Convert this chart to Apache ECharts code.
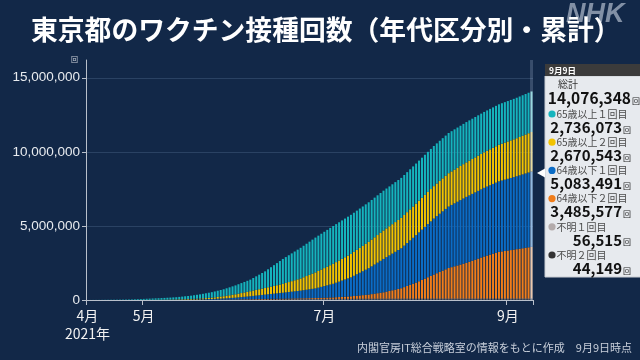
<!DOCTYPE html>
<html>
<head>
<meta charset="utf-8">
<script src="https://cdn.jsdelivr.net/npm/echarts@6.0.0/dist/echarts.min.js"></script>
<style>
html,body{margin:0;padding:0;background:#122848;}
#chart{width:640px;height:360px;}
</style>
</head>
<body>
<div id="chart"></div>
<script>
// ---- Data (cumulative doses, in thousands), one value per day from 2021-04-12 to 2021-09-09 ----
const startDate = '2021-04-12';

const teal = [ // 65歳以上１回目
2,3,4,5,6,8,
10,12,14,16,18,
21,24,27,31,35,
42,50,57,65,
72,80,87,95,102,110,
118,126,134,142,150,
164,178,192,206,220,
240,260,280,
302,325,347,370,
395,420,445,470,
502,535,567,600,
636,672,708,744,780,
848,916,984,1052,1120,
1213,1307,1400,1493,1587,1680,
1745,1810,1875,1940,2005,2070,
2126,2182,2238,2294,2350,
2383,2417,2450,2483,2517,2550,
2565,2580,2595,2610,2625,2640,
2645,2650,2655,2660,2665,2670,
2674,2678,2682,2686,2690,
2692,2693,2695,2697,2698,2700,
2701,2702,2703,2704,2705,
2706,2707,2707,2708,2709,2710,
2711,2712,2713,2714,2715,
2716,2717,2718,2718,2719,2720,
2721,2722,2723,2723,2724,2725,
2726,2726,2727,2727,2728,
2729,2729,2730,2731,2731,2732,
2733,2734,2734,2735,2736.073];

const yellow = [ // 65歳以上２回目
0,0,0,0,0,0,
0,0,1,1,1,
1,1,2,2,2,
3,3,4,5,
6,7,8,9,10,12,
14,17,19,22,25,
29,33,37,41,45,
50,55,60,
67,75,82,90,
105,120,135,150,
170,190,210,230,
252,274,296,318,340,
362,384,406,428,450,
475,500,525,550,575,600,
637,673,710,747,783,820,
872,924,976,1028,1080,
1125,1170,1215,1260,1305,1350,
1388,1427,1465,1503,1542,1580,
1613,1647,1680,1713,1747,1780,
1808,1836,1864,1892,1920,
1942,1963,1985,2007,2028,2050,
2066,2082,2098,2114,2130,
2140,2150,2160,2170,2180,2190,
2202,2214,2226,2238,2250,
2263,2277,2290,2303,2317,2330,
2342,2353,2365,2377,2388,2400,
2414,2428,2442,2456,2470,
2487,2503,2520,2537,2553,2570,
2590,2610,2630,2650,2670.543];

const blue = [ // 64歳以下１回目
0,0,0,0,0,0,
0,1,1,1,1,
1,1,2,2,2,
2,2,3,3,
3,4,4,5,5,6,
7,8,8,9,10,
12,14,16,18,20,
23,27,30,
35,40,45,50,
57,65,72,80,
90,100,110,120,
136,152,168,184,200,
218,236,254,272,290,
308,327,345,363,382,400,
420,440,460,480,500,520,
546,572,598,624,650,
695,740,785,830,875,920,
980,1040,1100,1160,1220,1280,
1363,1447,1530,1613,1697,1780,
1874,1968,2062,2156,2250,
2325,2400,2475,2550,2625,2700,
2800,2900,3000,3100,3200,
3297,3393,3490,3587,3683,3780,
3854,3928,4002,4076,4150,
4200,4250,4300,4350,4400,4450,
4480,4510,4540,4570,4600,4630,
4656,4682,4708,4734,4760,
4787,4813,4840,4867,4893,4920,
4953,4985,5018,5051,5083.491];

const orange = [ // 64歳以下２回目
0,0,0,0,0,0,
0,0,0,0,0,
0,0,0,0,1,
1,1,1,1,
1,1,2,2,2,2,
2,2,3,3,3,
3,4,4,5,5,
6,6,7,
8,9,10,11,
12,13,14,15,
16,17,19,20,
22,24,26,28,30,
32,34,36,38,40,
41,42,42,43,44,45,
47,48,50,52,53,55,
57,59,61,63,65,
71,77,83,88,94,100,
112,123,135,147,158,170,
188,207,225,243,262,280,
310,340,370,400,430,
475,520,565,610,655,700,
776,852,928,1004,1080,
1170,1260,1350,1440,1530,1620,
1708,1796,1884,1972,2060,
2118,2177,2235,2293,2352,2410,
2482,2553,2625,2697,2768,2840,
2902,2964,3026,3088,3150,
3180,3210,3240,3270,3300,3330,
3361,3392,3423,3454,3485.577];

const unknown1 = [ // 不明１回目
0,0,0,0,0,0,0,0,0,0,
0,0,0,0,0,0,0,0,0,0,
0,0,0,0,0,0,0,0,0,0,
0,
1,1,2,2,3,3,4,4,5,5,6,6,7,7,8,8,9,10,11,12,
13,14,15,16,17,18,19,20,21,22,23,24,25,26,27,28,29,30,31,32,33,34,35,36,37,38,39,40,40,41,
41,42,42,43,43,44,44,45,45,46,46,47,47,48,48,49,49,50,50,50,51,51,51,52,52,52,53,53,53,53,
54,54,54,54,54,54,54,
55,55,55,55,55,55,55,55,55,55,
56,56,56,56,56,56,56,56,56,56,56,56,56,56,56,56,56,56,56,
56.5,56.5,56.5,56.515];

const unknown2 = [ // 不明２回目
0,0,0,0,0,0,0,0,0,0,
0,0,0,0,0,0,0,0,0,0,
0,0,0,0,0,0,0,0,0,0,
0,0,0,0,0,0,0,0,0,0,
0,
1,1,1,2,2,2,3,3,4,4,5,5,6,6,7,8,9,10,11,12,13,14,15,16,17,18,19,20,21,22,
23,24,25,26,27,28,29,30,30,31,31,32,32,33,33,34,34,35,35,36,36,37,37,38,38,38,39,39,39,40,40,40,40,41,41,41,41,42,42,42,
42,42,42,42,
43,43,43,43,43,43,43,43,43,43,43,43,
44,44,44,44,44,44,44,44,44,44,44,44,44,44,44,44,44,44,44,44,44,
44.1,44.1,44.149];

const yTicks = [0, 5000000, 10000000, 15000000];
const xTickDates = ['4/12', '5/1', '7/1', '9/1'];
const xTickLabels = ['4月\n2021年', '5月', '7月', '9月'];

const latestDate = '9月9日';
const latestTotal = 14076348;
const latestLabels = ['65歳以上１回目', '65歳以上２回目', '64歳以下１回目', '64歳以下２回目', '不明１回目', '不明２回目'];
const latestValues = [2736073, 2670543, 5083491, 3485577, 56515, 44149];

// ---- Build ----
const n = teal.length;
[yellow, blue, orange, unknown1, unknown2].forEach((a, k) => { if (a.length !== n) console.error('length mismatch', k, a.length, n); });

const categories = [];
{
  const d0 = new Date(startDate + 'T00:00:00');
  for (let i = 0; i < n; i++) {
    const d = new Date(d0.getTime());
    d.setDate(d0.getDate() + i);
    categories.push((d.getMonth() + 1) + '/' + d.getDate());
  }
}
const tickIdx = xTickDates.map(s => categories.indexOf(s));

const C = {
  teal: '#15b4bd', yellow: '#f2c300', blue: '#0b6cc6', orange: '#f07d1a', gray: '#b3abab', dark: '#333333'
};
const seriesDefs = [
  { name: '不明２回目', data: unknown2, color: C.dark, light: '#6a6a6a' },
  { name: '不明１回目', data: unknown1, color: C.gray, light: '#d8d2d2' },
  { name: '64歳以下２回目', data: orange, color: C.orange, light: '#f6c49a' },
  { name: '64歳以下１回目', data: blue, color: C.blue, light: '#86b2dc' },
  { name: '65歳以上２回目', data: yellow, color: C.yellow, light: '#f4de8a' },
  { name: '65歳以上１回目', data: teal, color: C.teal, light: '#8fdadc' }
];
const dotColors = [C.teal, C.yellow, C.blue, C.orange, C.gray, C.dark];

const fmt = v => Math.round(v).toString().replace(/\B(?=(\d{3})+(?!\d))/g, ',');
const JP = '"Noto Sans CJK JP", "Noto Sans", sans-serif';

const series = seriesDefs.map(s => ({
  name: s.name,
  type: 'bar',
  stack: 'total',
  barCategoryGap: '32%',
  itemStyle: { color: s.color },
  data: s.data.map((v, i) => i === n - 1
    ? { value: Math.round(v * 1000), itemStyle: { color: s.light } }
    : Math.round(v * 1000))
}));

// Tooltip-like panel
const panelX = 545, panelTop = 64, headerH = 12, panelBottom = 277;
const g = [];
g.push({ type: 'rect', shape: { x: panelX, y: panelTop + headerH, width: 100, height: panelBottom - panelTop - headerH }, style: { fill: '#e7eaee', stroke: '#c9cdd3', lineWidth: 1 }, z: 100 });
g.push({ type: 'rect', shape: { x: panelX, y: panelTop, width: 100, height: headerH }, style: { fill: '#3b3b3b' }, z: 101 });
g.push({ type: 'text', x: panelX + 4, y: panelTop + headerH / 2 + 0.5, style: { text: latestDate, fill: '#ffffff', font: 'bold 8.5px ' + JP, verticalAlign: 'middle' }, z: 102 });
g.push({ type: 'text', x: 558, y: 84, style: { text: '総計', fill: '#333', font: '10px ' + JP, verticalAlign: 'middle' }, z: 102 });
g.push({ type: 'text', x: 631, y: 98, style: { text: fmt(latestTotal), fill: '#111', font: 'bold 15.5px ' + JP, align: 'right', verticalAlign: 'middle' }, z: 102 });
g.push({ type: 'text', x: 632, y: 101, style: { text: '回', fill: '#222', font: '8px ' + JP, verticalAlign: 'middle' }, z: 102 });
latestLabels.forEach((lab, i) => {
  const yl = 114 + i * 28.2;
  const yv = yl + 13;
  g.push({ type: 'circle', shape: { cx: 552, cy: yl, r: 3.6 }, style: { fill: dotColors[i] }, z: 102 });
  g.push({ type: 'text', x: 556.5, y: yl, style: { text: lab, fill: '#4a4a4a', font: '10px ' + JP, verticalAlign: 'middle' }, z: 102 });
  g.push({ type: 'text', x: 622, y: yv, style: { text: fmt(latestValues[i]), fill: '#111', font: 'bold 15px ' + JP, align: 'right', verticalAlign: 'middle' }, z: 102 });
  g.push({ type: 'text', x: 623, y: yv + 2.5, style: { text: '回', fill: '#222', font: '8px ' + JP, verticalAlign: 'middle' }, z: 102 });
});
g.push({ type: 'polygon', shape: { points: [[537, 173], [545, 168.5], [545, 177.5]] }, style: { fill: '#ffffff' }, z: 102 });
// Title, logo, source
g.push({ type: 'text', x: 566, y: 15, style: { text: 'NHK', fill: '#8290a5', font: 'italic 900 27px "Liberation Sans", Arial, sans-serif', verticalAlign: 'middle' }, z: 5 });
g.push({ type: 'text', x: 31, y: 30, style: { text: '東京都のワクチン接種回数（年代区分別・累計）', fill: '#ffffff', font: 'bold 26.8px ' + JP, verticalAlign: 'middle' }, z: 10 });
g.push({ type: 'text', x: 632, y: 348, style: { text: '内閣官房IT総合戦略室の情報をもとに作成　9月9日時点', fill: '#c8cfda', font: '11px ' + JP, align: 'right', verticalAlign: 'middle' }, z: 10 });

const chart = echarts.init(document.getElementById('chart'), null, { renderer: 'canvas' });
chart.setOption({
  backgroundColor: '#122848',
  animation: false,
  textStyle: { fontFamily: JP },
  grid: { left: 86, right: 107, top: 60, bottom: 60, containLabel: false },
  xAxis: {
    type: 'category',
    data: categories,
    boundaryGap: true,
    axisLine: { lineStyle: { color: '#b9c0cb', width: 1 } },
    axisTick: { show: true, length: 5, interval: (i) => tickIdx.includes(i), lineStyle: { color: '#b9c0cb' } },
    axisLabel: {
      interval: (i) => tickIdx.includes(i),
      formatter: (v, i) => { const k = tickIdx.indexOf(i); return k >= 0 ? xTickLabels[k] : ''; },
      color: '#f2f2f2', fontSize: 14, lineHeight: 18, margin: 7, fontFamily: JP
    },
    splitLine: { show: false },
    axisPointer: {
      show: true, type: 'shadow', value: categories[n - 1], status: 'show',
      triggerTooltip: false, label: { show: false },
      shadowStyle: { color: 'rgba(190,210,235,0.22)' }
    }
  },
  yAxis: {
    type: 'value',
    min: 0,
    max: 16200000,
    interval: 5000000,
    name: '回',
    nameLocation: 'end',
    nameGap: 1,
    nameTextStyle: { color: '#c9ced6', fontSize: 7, align: 'right', verticalAlign: 'middle', padding: [0, 8, 0, 0] },
    axisLine: { show: true, lineStyle: { color: '#b9c0cb', width: 1 } },
    axisTick: { show: true, length: 4, customValues: yTicks, lineStyle: { color: '#b9c0cb' } },
    axisLabel: {
      customValues: yTicks,
      formatter: v => fmt(v), color: '#e8ebef', fontSize: 13.5, margin: 6,
      fontFamily: '"Liberation Sans", Arial, sans-serif'
    },
    splitLine: { show: true, lineStyle: { color: ['#2a4263', '#2a4263', '#2a4263', '#2a4263', 'rgba(0,0,0,0)'], width: 1 } }
  },
  series: series,
  graphic: g
});
</script>
</body>
</html>
